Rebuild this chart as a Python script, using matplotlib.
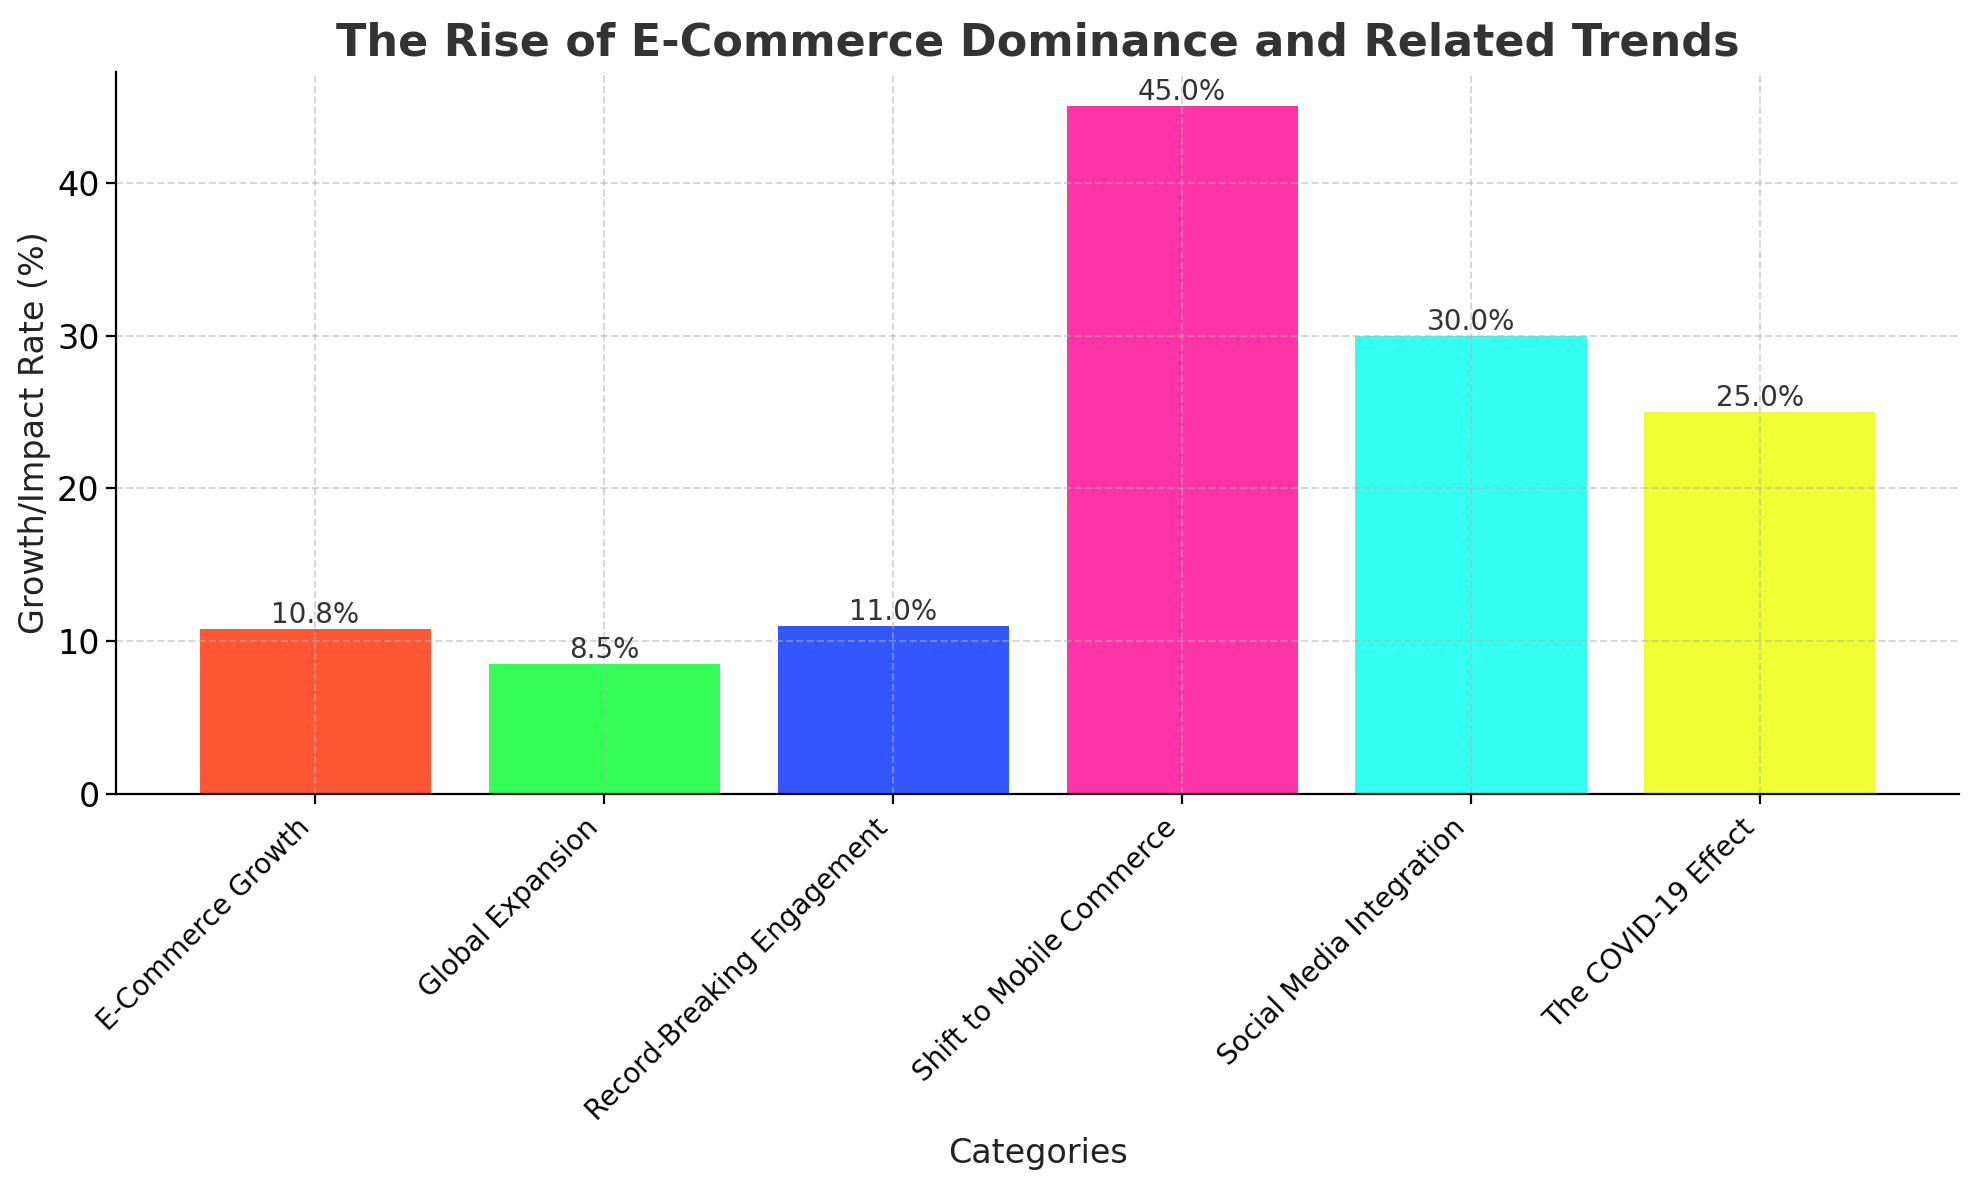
import matplotlib.pyplot as plt

# data
categories = ["E-Commerce Growth", "Global Expansion", "Record-Breaking Engagement",
              "Shift to Mobile Commerce", "Social Media Integration", "The COVID-19 Effect"]
values = [10.8, 8.5, 11.0, 45.0, 30.0, 25.0]
colors = ["#FF5733", "#33FF57", "#3357FF", "#FF33A8", "#33FFF0", "#F0FF33"]

fig, ax = plt.subplots(figsize=(9.895, 5.9), dpi=200)
fig.subplots_adjust(left=0.0587, right=0.990, top=0.939, bottom=0.327)
bars = ax.bar(categories, values, color=colors)

# value labels on top of bars
for b, v in zip(bars, values):
    ax.text(b.get_x() + b.get_width() / 2, v, f"{v}%", ha="center", va="bottom",
            fontsize=10, color="#333333")

ax.set_title("The Rise of E-Commerce Dominance and Related Trends",
             fontsize=16, fontweight="bold", color="#333333")
ax.set_xlabel("Categories", fontsize=12, color="#222222")
ax.set_ylabel("Growth/Impact Rate (%)", fontsize=12, color="#222222", labelpad=2)
plt.xticks(rotation=45, ha="right", fontsize=10)
plt.yticks(fontsize=12)
ax.tick_params(axis="y", pad=2.5)
ax.grid(True, linestyle="--", alpha=0.5, linewidth=0.7)
ax.spines["top"].set_visible(False)
ax.spines["right"].set_visible(False)
for s in ax.spines.values():
    s.set_zorder(5)

plt.savefig("out.png", dpi=200)
